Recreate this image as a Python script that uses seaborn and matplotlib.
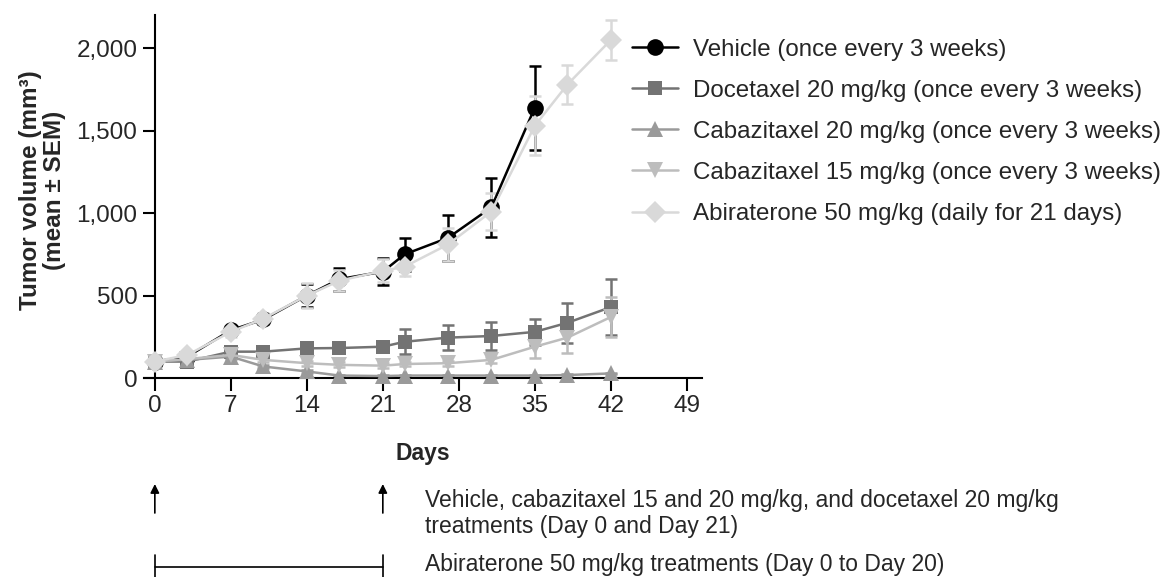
import numpy as np
import pandas as pd
import seaborn as sns
import matplotlib.pyplot as plt
import matplotlib.transforms as mtransforms
from matplotlib.ticker import StrMethodFormatter

# Дни измерений
days = [0, 3, 7, 10, 14, 17, 21, 23, 27, 31, 35, 38, 42]
days_vehicle = days[:11]

# Средний объём опухоли (мм3) и SEM
vehicle = [100, 130, 290, 355, 500, 600, 645, 750, 850, 1035, 1640]
vehicle_sem = [15, 15, 25, 30, 70, 70, 80, 100, 140, 180, 255]

docetaxel = [100, 100, 160, 160, 180, 182, 190, 220, 245, 255, 280, 335, 430]
docetaxel_sem = [10, 15, 25, 20, 20, 20, 25, 77, 75, 87, 80, 120, 170]

cabazitaxel20 = [100, 110, 130, 70, 40, 15, 12, 15, 15, 15, 15, 18, 28]
cabazitaxel20_sem = [10, 10, 15, 10, 10, 5, 5, 5, 5, 5, 5, 5, 5]

cabazitaxel15 = [100, 115, 140, 110, 90, 80, 75, 85, 90, 110, 190, 245, 370]
cabazitaxel15_sem = [10, 10, 20, 15, 15, 15, 15, 15, 15, 20, 70, 95, 120]

abiraterone = [100, 140, 280, 360, 500, 590, 650, 675, 810, 1010, 1530, 1780, 2050]
abiraterone_sem = [15, 20, 30, 35, 75, 65, 70, 55, 100, 115, 180, 120, 120]

labels = ['Vehicle (once every 3 weeks)',
          'Docetaxel 20 mg/kg (once every 3 weeks)',
          'Cabazitaxel 20 mg/kg (once every 3 weeks)',
          'Cabazitaxel 15 mg/kg (once every 3 weeks)',
          'Abiraterone 50 mg/kg (daily for 21 days)']
colors = ['#000000', '#737373', '#9a9a9a', '#bdbdbd', '#d9d9d9']
markers = ['o', 's', '^', 'v', 'D']
msizes = [12, 10.5, 12, 12, 11]

series = [(days_vehicle, vehicle, vehicle_sem),
          (days, docetaxel, docetaxel_sem),
          (days, cabazitaxel20, cabazitaxel20_sem),
          (days, cabazitaxel15, cabazitaxel15_sem),
          (days, abiraterone, abiraterone_sem)]

sns.set_theme(style='ticks')
plt.rcParams['font.family'] = ['Liberation Sans', 'DejaVu Sans']

fig = plt.figure(figsize=(11.64, 5.77), dpi=100)
ax = fig.add_axes([0.1237, 0.3334, 0.4794, 0.6401])

for (x, y, err), lab, c, m, ms in zip(series, labels, colors, markers, msizes):
    ax.errorbar(x, y, yerr=err, fmt='none', ecolor=c, elinewidth=1.8,
                capsize=4.5, capthick=1.8, zorder=2)
    sns.lineplot(x=x, y=y, color=c, marker=m, markersize=ms, markeredgecolor=c,
                 markeredgewidth=0, linewidth=1.8, label=lab, ax=ax, zorder=3)

ax.set_xlim(-1, 50.4)
ax.set_ylim(-40, 2200)
ax.set_xticks(range(0, 50, 7))
ax.set_yticks([0, 500, 1000, 1500, 2000])
ax.yaxis.set_major_formatter(StrMethodFormatter('{x:,.0f}'))

ax.spines['left'].set_position(('data', 0))
ax.spines['bottom'].set_position(('data', 0))
ax.spines['left'].set_bounds(0, 2200)
ax.spines['right'].set_visible(False)
ax.spines['top'].set_visible(False)
for s in ['left', 'bottom']:
    ax.spines[s].set_linewidth(1.5)
    ax.spines[s].set_color('black')
ax.tick_params(axis='both', length=9, width=1.5, color='black', labelsize=17.5, pad=3.5)

ax.set_xlabel('Days', fontsize=16.5, fontweight='bold')
ax.xaxis.set_label_coords(0.5, -0.155)
ax.set_ylabel('Tumor volume (mm³)\n(mean ± SEM)', fontsize=17.5, fontweight='bold',
              linespacing=1.05)
ax.yaxis.set_label_coords(-0.14, 0.527)

ax.legend(loc='upper left', bbox_to_anchor=(0.543, 0.933), bbox_transform=fig.transFigure,
          frameon=False, fontsize=17.4, handlelength=1.9, handletextpad=0.62,
          labelspacing=0.79, borderpad=0, borderaxespad=0)

# Схема лечения под графиком
tr = mtransforms.blended_transform_factory(ax.transData, fig.transFigure)
for d in [0, 21]:
    ax.annotate('', xy=(d, 1 - 484 / 577), xytext=(d, 1 - 513 / 577),
                xycoords=tr, textcoords=tr,
                arrowprops=dict(arrowstyle='-|>', color='black', lw=1.2,
                                mutation_scale=13, shrinkA=0, shrinkB=0),
                annotation_clip=False)
ax.plot([0, 21], [1 - 567 / 577] * 2, color='black', lw=1.2, transform=tr, clip_on=False)
for d in [0, 21]:
    ax.plot([d, d], [1 - 555 / 577, 1 - 577 / 577], color='black', lw=1.2,
            transform=tr, clip_on=False)

fig.text(425 / 1164, 1 - 500 / 577,
         'Vehicle, cabazitaxel 15 and 20 mg/kg, and docetaxel 20 mg/kg',
         fontsize=16.5, va='center', ha='left')
fig.text(425 / 1164, 1 - 527 / 577, 'treatments (Day 0 and Day 21)',
         fontsize=16.5, va='center', ha='left')
fig.text(425 / 1164, 1 - 565 / 577, 'Abiraterone 50 mg/kg treatments (Day 0 to Day 20)',
         fontsize=16.5, va='center', ha='left')

plt.savefig('out.png', dpi=100)
